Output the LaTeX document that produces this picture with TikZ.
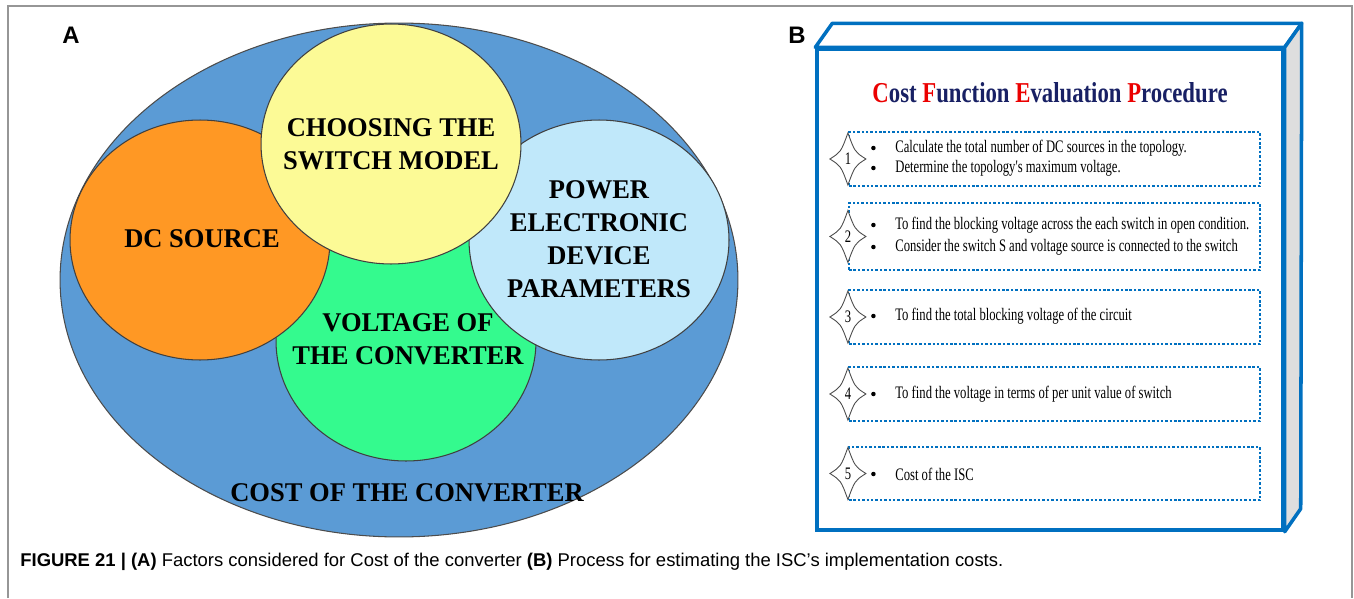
\documentclass[tikz,border=0pt]{standalone}
\usepackage{fontspec}
\setmainfont{Liberation Serif}
\setsansfont{Liberation Sans}
\newfontfamily\vennfont[FakeStretch=0.98]{Liberation Serif}
\newfontfamily\titlefont[FakeStretch=0.79]{Liberation Serif}
\newfontfamily\stepfont[FakeStretch=0.72]{Liberation Serif}
\usetikzlibrary{shapes.geometric, positioning, calc}
\definecolor{costOuter}{RGB}{91,155,213}
\definecolor{costDC}{RGB}{255,152,36}
\definecolor{costSwitch}{RGB}{252,250,150}
\definecolor{costDevice}{RGB}{192,232,250}
\definecolor{costVoltage}{RGB}{52,250,142}
\definecolor{procBlue}{RGB}{0,112,192}
\definecolor{procNavy}{RGB}{24,32,100}
\definecolor{procRed}{RGB}{235,0,0}
\definecolor{procSide}{RGB}{222,222,222}
\definecolor{frameGray}{RGB}{150,150,150}
\tikzset{
  FrameLine/.style  = {draw=frameGray, line width=0.6pt},
  PanelTag/.style   = {font=\sffamily\bfseries\fontsize{13.6}{16}\selectfont, inner sep=0pt},
  OuterSet/.style   = {ellipse, draw=black!70, line width=0.6pt, fill=costOuter,
                       inner sep=0pt, minimum width=13.56cm, minimum height=10.28cm},
  Factor/.style     = {ellipse, draw=black!75, line width=0.6pt, inner sep=0pt,
                       minimum width=5.2cm, minimum height=4.8cm},
  FactorText/.style = {align=center, inner sep=0pt,
                       font=\vennfont\bfseries\fontsize{15.4}{18.8}\selectfont},
  ProcFront/.style  = {rectangle, draw=procBlue, line width=2pt, fill=white,
                       minimum width=9.32cm, minimum height=9.62cm},
  ProcEdge/.style   = {draw=procBlue, line width=2pt, line join=round},
  ProcTitle/.style  = {font=\titlefont\bfseries\fontsize{16.4}{20}\selectfont,
                       text=procNavy, inner sep=0pt},
  StepBox/.style    = {rectangle, draw=procBlue, line width=1.3pt,
                       dash pattern=on 1.4pt off 1.1pt, minimum width=8.22cm},
  StarEdge/.style   = {draw=black!70, line width=0.5pt, fill=white},
  StepNo/.style     = {font=\stepfont\fontsize{10}{12}\selectfont, inner sep=0pt},
  StepText/.style   = {anchor=west, inner sep=0pt, font=\stepfont\fontsize{10}{12}\selectfont},
  Bullet/.style     = {circle, fill=black, inner sep=0pt, minimum size=0.09cm},
  Caption/.style    = {anchor=west, inner sep=0pt, font=\sffamily\fontsize{10.5}{12}\selectfont},
}
\begin{document}
\begin{tikzpicture}[x=0.02cm, y=-0.02cm]
  \useasboundingbox (0,0) rectangle (1354,598);
  \draw[FrameLine] (8,598) -- (8,6) -- (1352,6) -- (1352,598);

  % panel A: cost factors
  \node[PanelTag] (tagA) at (71,35) {A};
  \node[OuterSet] (cost) at (399,280) {};
  \node[Factor, fill=costVoltage] (voltage) at (406,341) {};
  \node[Factor, fill=costDC] (dc) at (200,240) {};
  \node[Factor, fill=costDevice] (device) at (599,240) {};
  \node[Factor, fill=costSwitch] (switch) at (391,144) {};
  \node[FactorText] (switchtxt) at (switch) {CHOOSING THE\\SWITCH MODEL};
  \node[FactorText] (dctxt) at (202,239) {DC SOURCE};
  \node[FactorText] (devicetxt) at (599,239) {POWER\\ELECTRONIC\\DEVICE\\PARAMETERS};
  \node[FactorText] (voltagetxt) at (408,339) {VOLTAGE OF\\THE CONVERTER};
  \node[FactorText] (costtxt) at (407,493) {COST OF THE CONVERTER};

  % panel B: procedure box
  \node[PanelTag] (tagB) at (797,35) {B};
  \node[ProcFront] (proc) at (1050,289.5) {};
  \draw[ProcEdge, fill=white] (proc.north west) -- ++(17,-24)
    -- ($(proc.north east)+(17,-24)$) -- (proc.north east) -- cycle;
  \draw[ProcEdge, fill=procSide] (proc.north east) -- ++(17,-24)
    -- ($(proc.south east)+(16,-23)$) -- (proc.south east) -- cycle;
  \node[ProcTitle] (title) at (1050,93) {\textcolor{procRed}{C}ost \textcolor{procRed}{F}unction
    \textcolor{procRed}{E}valuation \textcolor{procRed}{P}rocedure};

  \node[StepBox, minimum height=1.08cm] (step1) at (1054.5,159) {};
  \node[StepBox, minimum height=1.34cm] (step2) at (1054.5,236.5) {};
  \node[StepBox, minimum height=1.08cm] (step3) at (1054.5,317) {};
  \node[StepBox, minimum height=1.08cm] (step4) at (1054.5,394) {};
  \node[StepBox, minimum height=1.06cm] (step5) at (1054.5,473.5) {};
  \foreach \k in {1,...,5} {
    \begin{scope}[shift={(step\k.west)}]
      \draw[StarEdge] (0,-26) .. controls (7,-7) .. (18,0) .. controls (7,7) .. (0,26)
        .. controls (-7,7) .. (-18,0) .. controls (-7,-7) .. cycle;
      \node[StepNo] (no\k) at (0,0) {\k};
    \end{scope}
  }

  \node[StepText] (s1a) at (895,148) {Calculate the total number of DC sources in the topology.};
  \node[StepText] (s1b) at (895,168) {Determine the topology's maximum voltage.};
  \node[StepText] (s2a) at (895,225) {To find the blocking voltage across the each switch in open condition.};
  \node[StepText] (s2b) at (895,247) {Consider the switch S and voltage source is connected to the switch};
  \node[StepText] (s3a) at (895,316) {To find the total blocking voltage of the circuit};
  \node[StepText] (s4a) at (895,394) {To find the voltage in terms of per unit value of switch};
  \node[StepText] (s5a) at (895,474) {Cost of the ISC};
  \foreach \t in {s1a,s1b,s2a,s2b,s3a,s4a,s5a}
    \node[Bullet, left=0.38cm of \t] {};

  \node[Caption] (caption) at (20,562) {\textbf{FIGURE 21 | (A)} Factors considered for Cost of the
    converter \textbf{(B)} Process for estimating the ISC’s implementation costs.};
\end{tikzpicture}
\end{document}
